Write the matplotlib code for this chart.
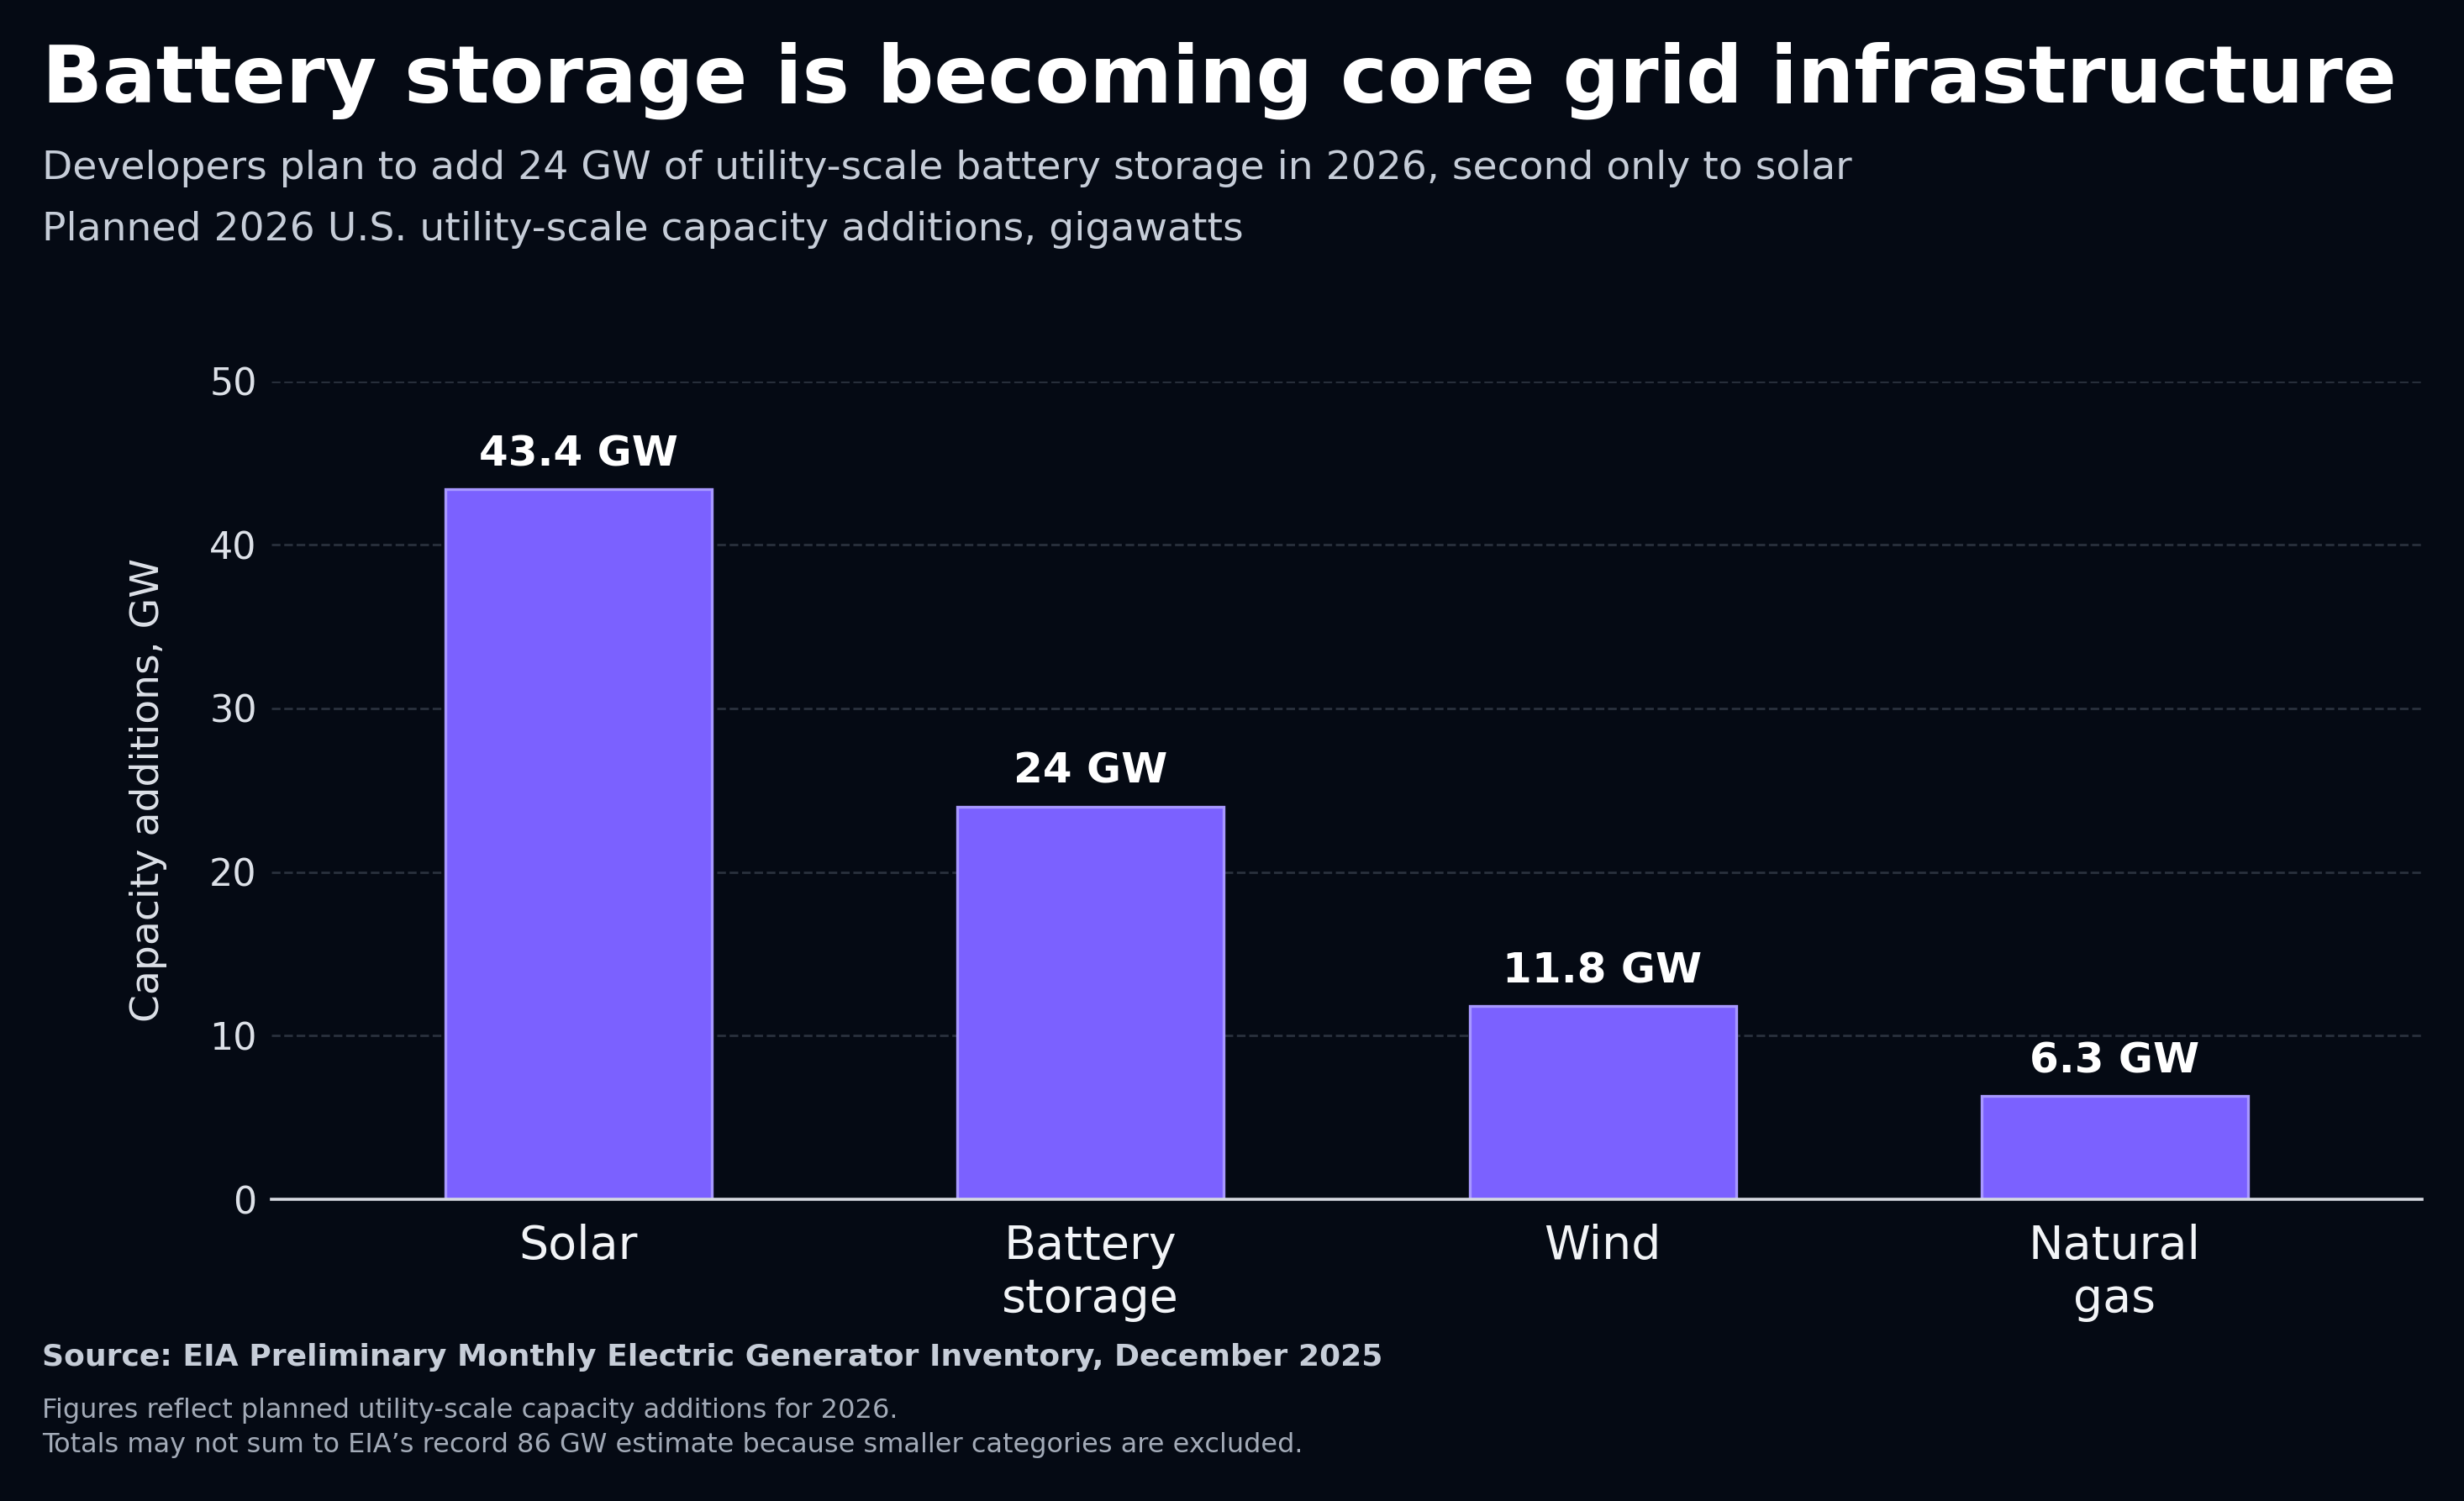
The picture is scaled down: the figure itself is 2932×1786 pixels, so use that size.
import matplotlib
matplotlib.use("Agg")
import matplotlib.pyplot as plt

# Planned 2026 U.S. utility-scale capacity additions (GW)
categories = ["Solar", "Battery\nstorage", "Wind", "Natural\ngas"]
values = [43.4, 24.0, 11.8, 6.3]
value_labels = ["43.4 GW", "24 GW", "11.8 GW", "6.3 GW"]
yticks = [0, 10, 20, 30, 40, 50]

bg = "#050a14"
bar_color = "#7b61ff"
bar_edge = "#a898ff"

plt.rcParams["font.family"] = "DejaVu Sans"

fig = plt.figure(figsize=(14.66, 8.93), dpi=200, facecolor=bg)
ax = fig.add_axes([0.110, 0.201, 0.873, 0.545])
ax.set_facecolor(bg)

x = range(len(categories))
bars = ax.bar(x, values, width=0.52, color=bar_color, edgecolor=bar_edge,
              linewidth=1.2, zorder=3)

for b, lab in zip(bars, value_labels):
    ax.annotate(lab, (b.get_x() + b.get_width() / 2, b.get_height()),
                xytext=(0, 6.5), textcoords="offset points",
                ha="center", va="bottom", fontsize=18, fontweight="bold",
                color="white")

ax.set_xlim(-0.6, 3.6)
ax.set_ylim(0, 50)
ax.set_yticks(yticks)
ax.set_xticks(list(x))
ax.set_xticklabels(categories, fontsize=20, color="#f2f4f7", linespacing=1.2)
ax.tick_params(axis="y", length=0, pad=6, labelsize=16, labelcolor="#dde1e8")
ax.tick_params(axis="x", length=0, pad=10.5)

ax.grid(axis="y", color="#2a313d", linestyle="--", linewidth=1.0, zorder=0)
for s in ["top", "right", "left"]:
    ax.spines[s].set_visible(False)
ax.spines["bottom"].set_color("#d6d9e0")
ax.spines["bottom"].set_linewidth(1.3)
ax.spines["bottom"].set_zorder(4)

ax.set_ylabel("Capacity additions, GW", fontsize=17, color="#dde1e8", labelpad=18)

fig.text(0.017, 0.932, "Battery storage is becoming core grid infrastructure",
         fontsize=34, fontweight="bold", color="white", va="baseline")
fig.text(0.017, 0.881,
         "Developers plan to add 24 GW of utility-scale battery storage in 2026, second only to solar",
         fontsize=17, color="#c6cdd8", va="baseline")
fig.text(0.017, 0.840, "Planned 2026 U.S. utility-scale capacity additions, gigawatts",
         fontsize=17, color="#c6cdd8", va="baseline")

fig.text(0.017, 0.090, "Source: EIA Preliminary Monthly Electric Generator Inventory, December 2025",
         fontsize=13, fontweight="bold", color="#c6cdd8", va="baseline")
fig.text(0.017, 0.0554, "Figures reflect planned utility-scale capacity additions for 2026.",
         fontsize=11.5, color="#a3abb8", va="baseline")
fig.text(0.017, 0.0325,
         "Totals may not sum to EIA\u2019s record 86 GW estimate because smaller categories are excluded.",
         fontsize=11.5, color="#a3abb8", va="baseline")

fig.savefig("out.png", dpi=200, facecolor=bg)
